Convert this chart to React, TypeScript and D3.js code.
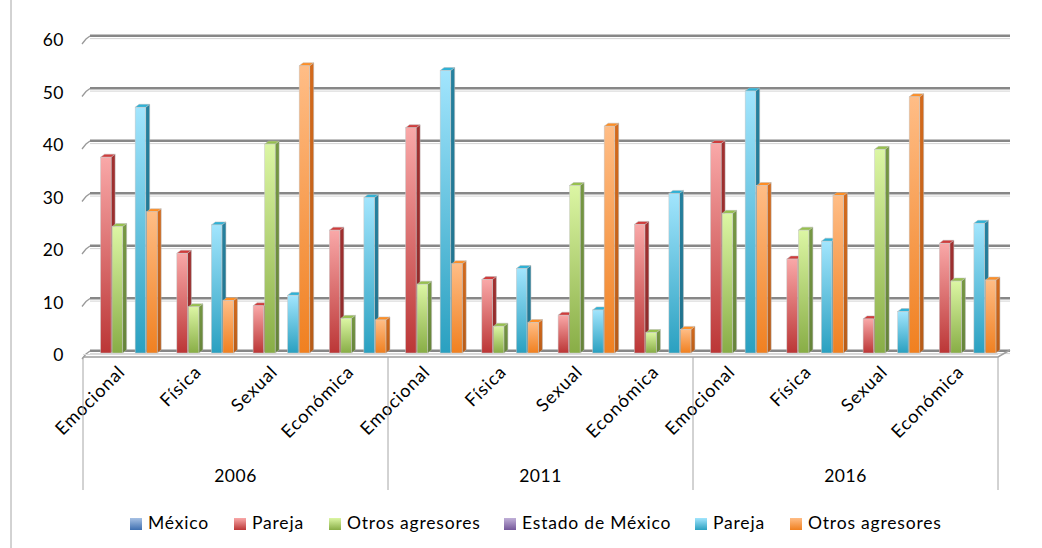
import * as d3 from 'd3'

const years = ['2006', '2011', '2016']
const categories = ['Emocional', 'Física', 'Sexual', 'Económica']
const seriesNames = ['México', 'Pareja', 'Otros agresores', 'Estado de México', 'Pareja', 'Otros agresores']

// values per cluster (year x category)
const mexicoHeader: (number | null)[] = [null, null, null, null, null, null, null, null, null, null, null, null]
const mexicoPareja = [37.3, 19.0, 9.0, 23.4, 42.9, 14.0, 7.2, 24.5, 39.9, 17.9, 6.5, 20.9]
const mexicoOtros = [24.1, 8.8, 39.8, 6.6, 13.1, 5.1, 31.9, 3.9, 26.6, 23.4, 38.8, 13.7]
const edomexHeader: (number | null)[] = [null, null, null, null, null, null, null, null, null, null, null, null]
const edomexPareja = [46.8, 24.4, 11.0, 29.6, 53.8, 16.1, 8.2, 30.4, 49.9, 21.3, 7.9, 24.7]
const edomexOtros = [26.9, 10.0, 54.7, 6.3, 17.0, 5.8, 43.2, 4.5, 31.9, 30.0, 48.8, 13.9]

const yTicks = [0, 10, 20, 30, 40, 50, 60]

const seriesValues = [mexicoHeader, mexicoPareja, mexicoOtros, edomexHeader, edomexPareja, edomexOtros]

// light (top), dark (bottom), side
const palette = [
  { light: '#a7c1e4', dark: '#3f6fb0', side: '#345d96' },
  { light: '#f9a8a8', dark: '#bb3636', side: '#8c2a2a' },
  { light: '#dcf6a4', dark: '#88ad46', side: '#66843a' },
  { light: '#c1b0d8', dark: '#74579a', side: '#5e4680' },
  { light: '#a2e5fd', dark: '#2aa0c0', side: '#20708a' },
  { light: '#ffbd86', dark: '#f08020', side: '#b85c18' }
]

const FONT = 'Lato, "Open Sans", sans-serif'

export default function App() {
  const width = 1042
  const height = 548
  const floorLeft = 83
  const floorRight = 998
  const base = 353
  const dx = 4
  const dy = -3

  const clusters = years.flatMap(y => categories.map(c => `${y}|${c}`))

  const x0 = d3.scaleBand<string>().domain(clusters).range([floorLeft, floorRight]).padding(0)
  const x1 = d3.scaleBand<number>()
    .domain(d3.range(seriesNames.length))
    .range([0, x0.bandwidth()])
    .paddingInner(0)
    .paddingOuter(0.31)
  const y = d3.scaleLinear().domain([0, 60]).range([base, 38])

  const barW = x1.bandwidth() - 1
  const shift = 2.5

  const bars = clusters.flatMap((key, ci) =>
    seriesValues.map((vals, si) => ({ key, ci, si, v: vals[ci] }))
  ).filter(d => d.v != null)

  const yearWidth = (floorRight - floorLeft) / years.length

  const legendX = [130, 234, 329, 504, 695, 790]

  return (
    <svg width={width} height={height} style={{ position: 'absolute', left: 0, top: 0, background: '#fff' }}
      fontFamily={FONT}>
      <defs>
        {palette.map((p, i) => (
          <linearGradient key={i} id={`g${i}`} x1="0" y1="0" x2="0" y2="1">
            <stop offset="0%" stopColor={p.light} />
            <stop offset="100%" stopColor={p.dark} />
          </linearGradient>
        ))}
        {palette.map((p, i) => (
          <linearGradient key={'s' + i} id={`s${i}`} x1="0" y1="0" x2="0" y2="1">
            <stop offset="0%" stopColor={d3.color(p.side)!.brighter(0.4).toString()} />
            <stop offset="100%" stopColor={p.side} />
          </linearGradient>
        ))}
      </defs>

      {/* chart border (left edge) */}
      <line x1={11} x2={11} y1={0} y2={height} stroke="#a6a6a6" strokeWidth={1} />

      {/* back wall gridlines */}
      {yTicks.map(t => (
        <g key={t}>
          <line x1={floorLeft + 7} x2={floorRight + 12} y1={y(t) - 2.2} y2={y(t) - 2.2} stroke="#878787" strokeWidth={2.6} />
          <line x1={floorLeft + 7} x2={floorRight + 12} y1={y(t) + 0.6} y2={y(t) + 0.6} stroke="#d4d4d4" strokeWidth={1} />
          <path d={`M${floorLeft - 1},${y(t) + 6} L${floorLeft + 3},${y(t) + 1} L${floorLeft + 7},${y(t) - 2}`} fill="none" stroke="#999" strokeWidth={1.3} />
          <text x={64} y={y(t) + 4} textAnchor="end" dominantBaseline="middle" fontSize={17.5} letterSpacing={0.5} fill="#000">{t}</text>
        </g>
      ))}

      {/* floor */}
      <path d={`M${floorLeft},${base + 4} L${floorRight},${base + 4} L${floorRight + 12},${base - 3}`} fill="none" stroke="#a0a0a0" strokeWidth={1.6} />
      <line x1={floorLeft} x2={floorRight} y1={base + 1.5} y2={base + 1.5} stroke="#dcdcdc" strokeWidth={1} />

      {/* bars */}
      {bars.map(d => {
        const xl = x0(d.key)! + x1(d.si)! + shift
        const xr = xl + barW
        const top = y(d.v as number)
        const p = palette[d.si]
        return (
          <g key={`${d.ci}-${d.si}`}>
            <path d={`M${xr},${top} L${xr + dx},${top + dy} L${xr + dx},${base + dy} L${xr},${base} Z`}
              fill={`url(#s${d.si})`} stroke="#b8b8b8" strokeWidth={0.5} />
            <path d={`M${xl},${top} L${xl + dx},${top + dy} L${xr + dx},${top + dy} L${xr},${top} Z`}
              fill={d3.color(p.dark)!.brighter(0.3).toString()} stroke="#b8b8b8" strokeWidth={0.5} />
            <rect x={xl} y={top} width={barW} height={base - top} fill={`url(#g${d.si})`}
              stroke="#c8c8c8" strokeWidth={0.5} />
          </g>
        )
      })}

      {/* category labels */}
      {clusters.map(key => {
        const cx = x0(key)! + x0.bandwidth() / 2 + 5
        const label = key.split('|')[1]
        return (
          <text key={key} transform={`translate(${cx},${373}) rotate(-45)`} textAnchor="end"
            fontSize={18} letterSpacing={0.9} fill="#000">{label}</text>
        )
      })}

      {/* year separators and labels */}
      {d3.range(years.length + 1).map(i => (
        <line key={i} x1={floorLeft + i * yearWidth} x2={floorLeft + i * yearWidth} y1={base + 4} y2={490}
          stroke="#a6a6a6" strokeWidth={1} />
      ))}
      {years.map((yr, i) => (
        <text key={yr} x={floorLeft + (i + 0.5) * yearWidth} y={478} textAnchor="middle" dominantBaseline="middle"
          fontSize={17.5} letterSpacing={0.5} fill="#000">{yr}</text>
      ))}

      {/* legend */}
      {seriesNames.map((name, i) => (
        <g key={i} transform={`translate(${legendX[i]},${518})`}>
          <rect x={0} y={0} width={12} height={12} fill={`url(#g${i})`} />
          <text x={18} y={6.5} dominantBaseline="middle" fontSize={17.5} letterSpacing={0.8} fill="#000">{name}</text>
        </g>
      ))}
    </svg>
  )
}
